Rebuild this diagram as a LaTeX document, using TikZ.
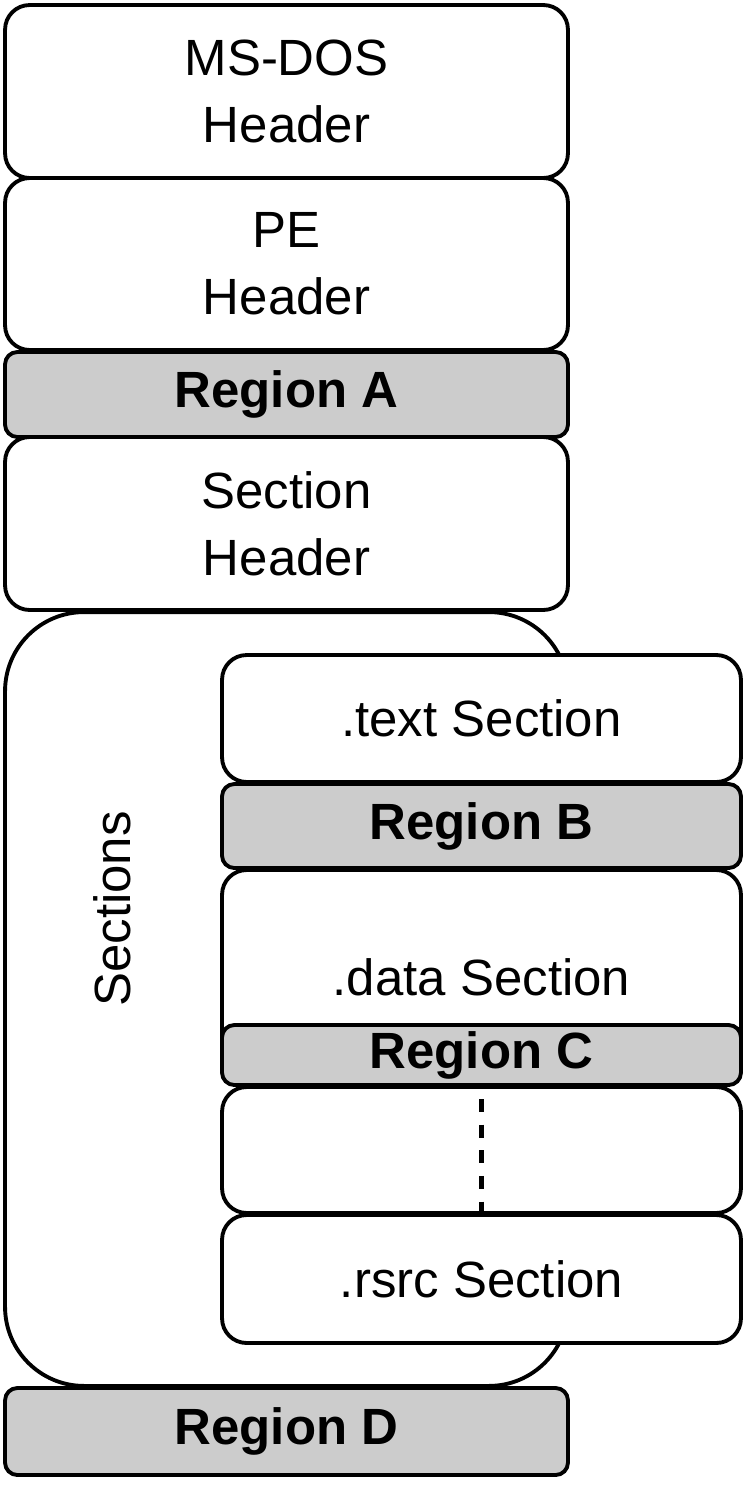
\documentclass[tikz,border=0pt]{standalone}
\usepackage{fontspec}
\setmainfont{Liberation Sans}
\usepackage{xcolor}
\definecolor{regiongray}{HTML}{CCCCCC}
\definecolor{ink}{HTML}{000000}
\usetikzlibrary{positioning}

\begin{document}
\begin{tikzpicture}[
		x=0.02cm, y=-0.02cm,
		every node/.style={font=\fontsize{29}{38}\selectfont, align=center, inner sep=0pt, outer sep=0pt},
		hdrbox/.style={draw=ink, line width=2.2pt, rounded corners=14pt, fill=white, minimum width=11.26cm},
		colbox/.style={hdrbox, minimum width=10.38cm},
		regbox/.style={draw=ink, line width=2.2pt, rounded corners=7pt, fill=regiongray, font=\fontsize{29}{38}\selectfont\bfseries},
		gapline/.style={ink, line width=2.8pt, dash pattern=on 7.4pt off 7.2pt}
	]
		\useasboundingbox (0,0) rectangle (748,1489);

		% Sections frame (behind the right column)
		\node[draw=ink, line width=2.2pt, rounded corners=45pt, fill=white, minimum width=11.26cm, minimum height=15.48cm] (sections) at (286.5,999) {};
		\node[rotate=90] (seclabel) at (112,909) {Sections};

		% Left column
		\node[hdrbox, minimum height=3.46cm] (msdos) at (286.5,91.5) {MS-DOS\\Header};
		\node[hdrbox, minimum height=3.44cm] (pe) at (286.5,264) {PE\\Header};
		\node[regbox, minimum width=11.26cm, minimum height=1.7cm] (rega) at (286.5,394.5) {Region A};
		\node[hdrbox, minimum height=3.46cm] (sechdr) at (286.5,523.5) {Section\\Header};
		\node[regbox, minimum width=11.26cm, minimum height=1.74cm] (regd) at (286.5,1431.5) {Region D};

		% Right column
		\node[colbox, minimum height=2.54cm] (text) at (481.5,718.5) {.text Section};
		\node[regbox, minimum width=10.38cm, minimum height=1.68cm] (regb) at (481.5,826) {Region B};
		\node[colbox, minimum height=4.3cm] (data) at (481.5,977.5) {.data Section};
		\node[regbox, minimum width=10.38cm, minimum height=1.2cm] (regc) at (481.5,1055) {Region C};
		\node[colbox, minimum height=2.52cm] (blank) at (481.5,1150) {};
		\node[colbox, minimum height=2.56cm] (rsrc) at (481.5,1279) {.rsrc Section};

		% Gap marker
		\coordinate (gaptop) at (481.5,1099);
		\draw[gapline] (gaptop) -- (blank.south);
	\end{tikzpicture}
\end{document}
